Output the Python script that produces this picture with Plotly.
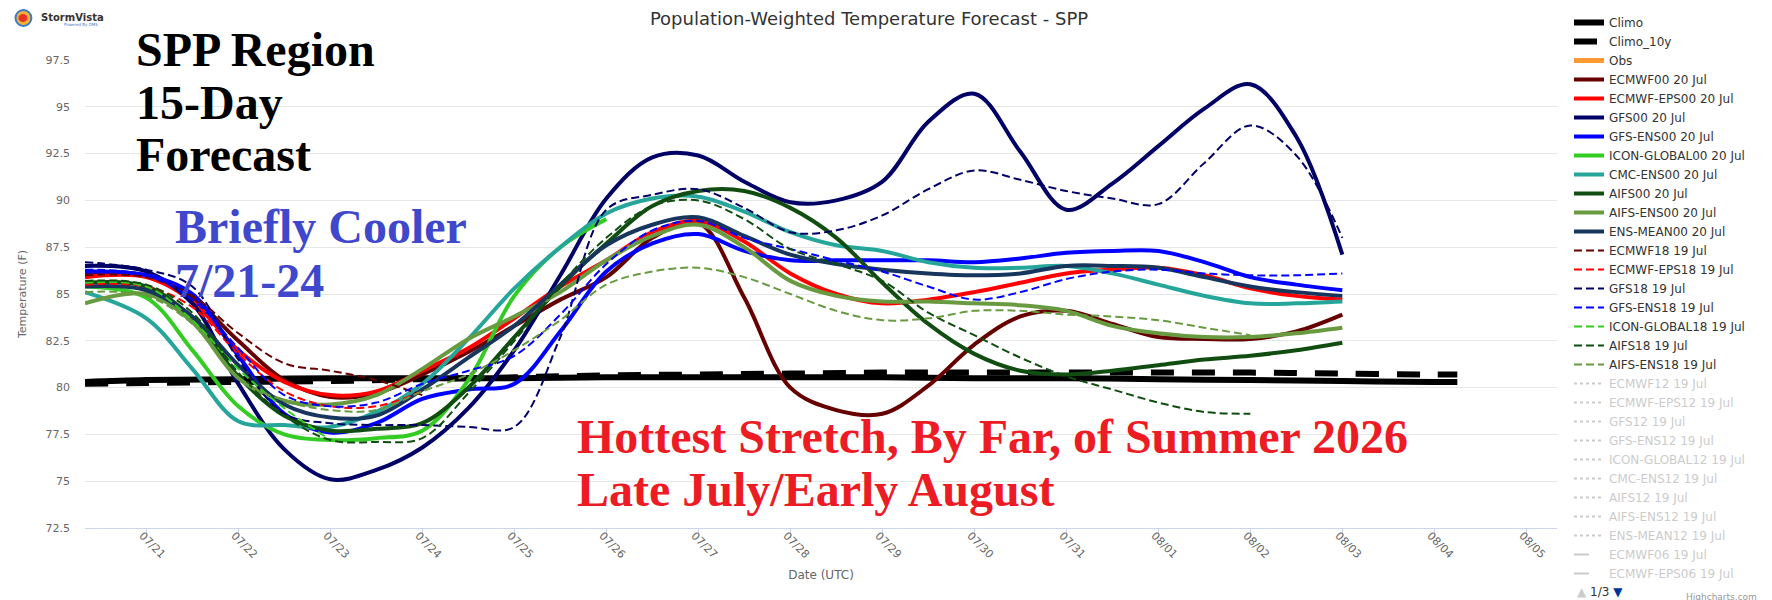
import pandas as pd
import plotly.graph_objects as go

# ======================
# DATA
# ======================
# 12-hourly forecast times, first point sits on the left edge of the axis
TIMES = ["2026-07-20 08:00"] + [
    t.strftime("%Y-%m-%d %H:%M") for t in pd.date_range("2026-07-21", "2026-08-03", freq="12h")
]
# daily climatology times
CLIMO_TIMES = ["2026-07-20 08:00"] + [
    t.strftime("%Y-%m-%d %H:%M") for t in pd.date_range("2026-07-21", "2026-08-04", freq="D")
] + ["2026-08-04 06:00"]

CLIMO = [80.3, 80.4, 80.45, 80.5, 80.5, 80.5, 80.55, 80.55, 80.55, 80.55, 80.5, 80.5,
         80.45, 80.4, 80.35, 80.3, 80.3]
CLIMO_10Y = [80.2, 80.25, 80.3, 80.35, 80.45, 80.55, 80.65, 80.7, 80.75, 80.8, 80.8, 80.8,
             80.8, 80.8, 80.75, 80.7, 80.7]
OBS = [None]   # no observations plotted yet

# 00Z 20 Jul runs
ECMWF00 = [86.1, 86.0, 84.8, 82.5, 80.4, 79.5, 79.7, 80.7, 81.9, 83.3, 84.7, 85.9, 88.0, 88.8,
           84.8, 80.0, 78.8, 78.6, 80.1, 82.3, 83.8, 84.1, 83.4, 82.7, 82.6, 82.6, 83.0, 83.9]
ECMWF_EPS00 = [85.9, 85.9, 84.6, 82.0, 80.3, 79.6, 79.8, 80.9, 82.1, 83.7, 85.4, 86.8, 88.3, 88.9,
               87.8, 86.1, 85.0, 84.5, 84.7, 85.1, 85.6, 86.1, 86.3, 86.4, 86.0, 85.3, 84.9, 84.7]
GFS00 = [86.5, 86.2, 84.5, 80.2, 76.7, 75.1, 75.6, 76.8, 78.9, 82.0, 86.0, 90.1, 92.3, 92.4,
         91.0, 89.9, 90.0, 91.0, 94.2, 95.7, 92.6, 89.5, 90.9, 92.9, 94.9, 96.2, 93.4, 87.1]
GFS_ENS00 = [86.2, 86.0, 85.0, 81.7, 78.6, 77.6, 78.1, 79.4, 79.9, 80.2, 83.0, 86.2, 87.7, 88.2,
             87.3, 86.8, 86.8, 86.8, 86.8, 86.7, 86.9, 87.2, 87.3, 87.3, 86.7, 85.9, 85.5, 85.2]
ICON00 = [85.4, 84.8, 82.0, 79.0, 77.5, 77.2, 77.3, 77.7, 80.4, 84.9, 87.5, 89.0]
CMC_ENS00 = [85.1, 83.7, 81.0, 78.2, 78.0, 77.9, 78.7, 80.2, 82.6, 85.3, 87.5, 89.3, 90.1, 90.2,
             89.4, 88.3, 87.6, 87.3, 86.7, 86.4, 86.4, 86.5, 86.1, 85.5, 84.9, 84.5, 84.5, 84.6]
AIFS00 = [85.6, 85.4, 83.7, 80.6, 78.5, 77.7, 77.8, 78.1, 80.0, 82.7, 85.4, 87.7, 89.7, 90.5,
          90.5, 89.6, 88.0, 85.6, 83.4, 81.8, 80.9, 80.7, 80.9, 81.2, 81.5, 81.7, 82.0, 82.4]
AIFS_ENS00 = [84.5, 85.0, 83.5, 80.5, 79.3, 79.1, 79.6, 81.0, 82.6, 83.8, 85.1, 86.8, 88.1, 88.7,
              87.5, 85.7, 84.9, 84.6, 84.6, 84.5, 84.4, 84.1, 83.3, 82.9, 82.7, 82.7, 82.9, 83.2]
ENS_MEAN00 = [85.4, 85.2, 83.8, 81.2, 79.1, 78.4, 78.5, 79.9, 81.6, 83.3, 85.5, 87.6, 88.7, 89.1,
              88.1, 87.1, 86.6, 86.3, 86.1, 86.0, 86.1, 86.5, 86.5, 86.4, 85.9, 85.4, 85.1, 84.9]

# 18Z 19 Jul runs
ECMWF18 = [86.0, 85.9, 84.9, 82.9, 81.3, 80.9, 80.4, 79.6]
ECMWF_EPS18 = [85.5, 85.4, 84.3, 81.8, 79.8, 79.0, 79.0, 79.8]
GFS18 = [86.7, 86.3, 85.4, 81.5, 78.6, 78.1, 78.0, 78.0, 77.9, 77.9, 82.7, 89.5, 90.3, 90.6,
         89.6, 88.3, 88.4, 89.2, 90.6, 91.6, 91.1, 90.5, 90.1, 89.8, 92.0, 94.0, 92.4, 88.0]
GFS_ENS18 = [86.3, 86.0, 84.7, 82.1, 79.6, 79.0, 79.2, 80.2, 80.9, 81.7, 83.9, 86.6, 88.4, 88.9,
             88.0, 87.4, 86.8, 86.2, 85.4, 84.7, 85.1, 85.8, 86.2, 86.3, 86.1, 86.0, 86.0, 86.1]
ICON18 = [85.6, 85.4, 83.6, 81.0, 78.9, 77.2]
AIFS18 = [85.7, 85.5, 84.0, 80.8, 78.5, 77.2, 77.1, 77.3, 79.7, 82.5, 85.5, 88.0, 89.7, 90.0,
          89.0, 87.4, 86.6, 85.7, 84.0, 82.8, 81.6, 80.6, 79.9, 79.2, 78.7, 78.6]
AIFS_ENS18 = [85.1, 84.9, 83.4, 80.5, 79.3, 78.8, 78.8, 79.8, 80.7, 82.0, 83.6, 85.5, 86.2, 86.4,
              85.9, 85.0, 84.1, 83.6, 83.7, 84.1, 84.1, 83.9, 83.8, 83.6, 83.2, 82.8]

# runs that are switched off (only shown greyed in the legend)
HIDDEN_DOTTED = ["ECMWF12 19 Jul", "ECMWF-EPS12 19 Jul", "GFS12 19 Jul", "GFS-ENS12 19 Jul",
                 "ICON-GLOBAL12 19 Jul", "CMC-ENS12 19 Jul", "AIFS12 19 Jul",
                 "AIFS-ENS12 19 Jul", "ENS-MEAN12 19 Jul"]
HIDDEN_DASHED = ["ECMWF06 19 Jul", "ECMWF-EPS06 19 Jul"]

# ======================
# STYLE
# ======================
W, H = 1772, 600
PL, PR, PT, PB = 77, 1559, 52, 520   # plot area in pixels


def px_x(px):
    return (px - PL) / (PR - PL)


def px_y(py):
    return (PB - py) / (PB - PT)


fig = go.Figure()


def add_line(name, times, values, color, width, dash="solid", visible=True):
    fig.add_trace(go.Scatter(
        x=times[:len(values)], y=values, name=name, mode="lines",
        line=dict(color=color, width=width, dash=dash, shape="spline", smoothing=1),
        visible=visible, hoverinfo="skip",
    ))


add_line("Climo", CLIMO_TIMES, CLIMO, "#000000", 6)
add_line("Climo_10y", CLIMO_TIMES, CLIMO_10Y, "#000000", 6, "23px,18px")
add_line("Obs", TIMES, OBS, "#ff9933", 5)

add_line("ECMWF00 20 Jul", TIMES, ECMWF00, "#660000", 4)
add_line("ECMWF-EPS00 20 Jul", TIMES, ECMWF_EPS00, "#ff0000", 4)
add_line("GFS00 20 Jul", TIMES, GFS00, "#000066", 4)
add_line("GFS-ENS00 20 Jul", TIMES, GFS_ENS00, "#0000ff", 4)
add_line("ICON-GLOBAL00 20 Jul", TIMES, ICON00, "#33cc22", 4)
add_line("CMC-ENS00 20 Jul", TIMES, CMC_ENS00, "#26a69a", 4)
add_line("AIFS00 20 Jul", TIMES, AIFS00, "#114d11", 4)
add_line("AIFS-ENS00 20 Jul", TIMES, AIFS_ENS00, "#689a40", 4)
add_line("ENS-MEAN00 20 Jul", TIMES, ENS_MEAN00, "#17365d", 4)

add_line("ECMWF18 19 Jul", TIMES, ECMWF18, "#660000", 2, "8px,4px")
add_line("ECMWF-EPS18 19 Jul", TIMES, ECMWF_EPS18, "#ff0000", 2, "8px,4px")
add_line("GFS18 19 Jul", TIMES, GFS18, "#000066", 2, "8px,4px")
add_line("GFS-ENS18 19 Jul", TIMES, GFS_ENS18, "#0000ff", 2, "8px,4px")
add_line("ICON-GLOBAL18 19 Jul", TIMES, ICON18, "#33cc22", 2, "8px,4px")
add_line("AIFS18 19 Jul", TIMES, AIFS18, "#114d11", 2, "8px,4px")
add_line("AIFS-ENS18 19 Jul", TIMES, AIFS_ENS18, "#689a40", 2, "8px,4px")

for name in HIDDEN_DOTTED:
    add_line("<span style='color:#999999'>" + name + "</span>", TIMES, [None], "#999999", 2,
             "dot", "legendonly")
for name in HIDDEN_DASHED:
    add_line("<span style='color:#999999'>" + name + "</span>", TIMES, [None], "#999999", 2,
             "longdash", "legendonly")

# ======================
# LAYOUT
# ======================
fig.update_layout(
    width=W, height=H,
    margin=dict(l=PL, r=W - PR, t=PT, b=H - PB),
    paper_bgcolor="white", plot_bgcolor="white",
    font=dict(family="DejaVu Sans", size=11, color="#666666"),
    title=dict(text="Population-Weighted Temperature Forecast - SPP",
               xref="container", yref="container", x=861 / W, y=1 - 11 / H,
               xanchor="center", yanchor="middle",
               font=dict(size=18, color="#333333")),
    showlegend=True,
    legend=dict(xref="container", yref="container", x=1561 / W, y=1.0,
                xanchor="left", yanchor="top", bgcolor="rgba(0,0,0,0)",
                font=dict(family="DejaVu Sans", size=12, color="#333333"),
                itemwidth=30, maxheight=600, traceorder="normal", tracegroupgap=0),
)

fig.update_xaxes(
    type="date", range=["2026-07-20 08:00", "2026-08-05 08:00"],
    tick0="2026-07-21", dtick=86400000, tickformat="%m/%d", tickangle=45,
    ticks="outside", ticklen=9, tickcolor="#ccd6eb",
    ticklabelstandoff=-13, ticklabelshift=-4,
    showline=True, linecolor="#ccd6eb", linewidth=1,
    showgrid=False, zeroline=False,
    tickfont=dict(size=11, color="#666666"),
    title=dict(text="Date (UTC)", standoff=10, font=dict(size=12, color="#666666")),
)
fig.update_yaxes(
    range=[72.5, 97.5], tick0=72.5, dtick=2.5,
    showgrid=True, gridcolor="#e6e6e6", gridwidth=1,
    zeroline=False, showline=False, ticks="", ticklabelstandoff=14,
    tickfont=dict(size=11, color="#666666"),
    title=dict(text="Temperature (F)", standoff=16, font=dict(size=11, color="#666666")),
)

# ======================
# BIG OVERLAY TEXT
# ======================
BIG = [
    ("SPP Region", 136, 67, "#000000"),
    ("15-Day", 136, 120, "#000000"),
    ("Forecast", 136, 173, "#000000"),
    ("Briefly Cooler", 176, 245, "#3f48cc"),
    ("7/21-24", 176, 298, "#3f48cc"),
    ("Hottest Stretch, By Far, of Summer 2026", 580, 454, "#ed1c24"),
    ("Late July/Early August", 580, 507, "#ed1c24"),
]
for text, x0, baseline, color in BIG:
    fig.add_annotation(
        text="<b>" + text + "</b>", xref="paper", yref="paper",
        x=px_x(x0 - 10), y=px_y(baseline - 26), xanchor="left", yanchor="middle",
        showarrow=False, font=dict(family="Liberation Serif", size=48, color=color),
    )

# logo
fig.add_shape(type="circle", xref="paper", yref="paper",
              x0=px_x(7), x1=px_x(23), y0=px_y(18), y1=px_y(2),
              fillcolor="#f2b233", line=dict(color="#3d7cc9", width=2))
fig.add_shape(type="circle", xref="paper", yref="paper",
              x0=px_x(10), x1=px_x(19), y0=px_y(14), y1=px_y(6),
              fillcolor="#e8322b", line=dict(width=0))
fig.add_annotation(text="<b>StormVista</b>", xref="paper", yref="paper",
                   x=px_x(31), y=px_y(9), xanchor="left", yanchor="middle", showarrow=False,
                   font=dict(family="DejaVu Sans", size=10, color="#333333"))
fig.add_annotation(text="Powered By DMS", xref="paper", yref="paper",
                   x=px_x(54), y=px_y(16), xanchor="left", yanchor="middle", showarrow=False,
                   font=dict(family="DejaVu Sans", size=4, color="#3d7cc9"))

# legend pager and credits
fig.add_annotation(text="<span style='color:#cccccc'>▲</span> 1/3 <span style='color:#003399'>▼</span>",
                   xref="paper", yref="paper", x=px_x(1577), y=px_y(584),
                   xanchor="left", yanchor="middle", showarrow=False,
                   font=dict(family="DejaVu Sans", size=12, color="#333333"))
fig.add_annotation(text="Highcharts.com", xref="paper", yref="paper",
                   x=px_x(1762), y=px_y(589), xanchor="right", yanchor="middle",
                   showarrow=False, font=dict(family="DejaVu Sans", size=9, color="#999999"))

fig.write_html("out.html")
